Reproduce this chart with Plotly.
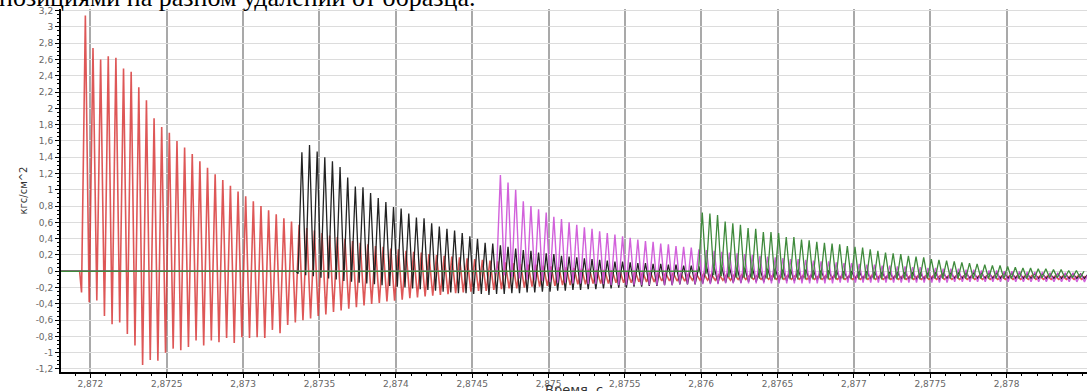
import plotly.graph_objects as go

# ---------------- data ----------------
P = 0.00005            # oscillation period, s
record_start = 2.8718  # start of record (flat zero before each trigger)

red_t0 = 2.871942
black_t0 = 2.873360
magenta_t0 = 2.874660
green_t0 = 2.875982

red_peaks = [
    3.14, 2.74, 2.60, 2.64, 2.62, 2.49, 2.45, 2.26, 2.10, 1.88,
    1.77, 1.70, 1.60, 1.52, 1.44, 1.35, 1.27, 1.19, 1.12, 1.05,
    0.98, 0.92, 0.86, 0.80, 0.75, 0.70, 0.65, 0.61, 0.57, 0.53,
    0.50, 0.47, 0.44, 0.42, 0.40, 0.37, 0.35, 0.33, 0.31, 0.30,
    0.28, 0.27, 0.25, 0.24, 0.23, 0.21, 0.20, 0.19, 0.18, 0.17,
    0.16, 0.15, 0.14, 0.13, 0.12, 0.11, 0.10, 0.09, 0.08, 0.08,
    0.07, 0.06, 0.05, 0.05, 0.04, 0.03, 0.03, 0.02, 0.02, 0.01,
    0.01, 0.00, 0.00, -0.01, -0.01, -0.02, -0.02, -0.02, -0.03, -0.03,
    -0.03, -0.03, -0.04, -0.04, -0.04, -0.04, -0.04, -0.05, -0.05, -0.05,
    -0.05, -0.05, -0.05, -0.05, -0.05, -0.05, -0.06, -0.05, -0.06, -0.06,
    -0.06, -0.06, -0.06, -0.05, -0.06, -0.06, -0.06, -0.06, -0.06, -0.06,
    -0.06, -0.06, -0.05, -0.06, -0.06, -0.06, -0.06, -0.06, -0.06, -0.06,
    -0.06, -0.06, -0.06, -0.06, -0.05, -0.06, -0.06, -0.06, -0.06, -0.06,
    -0.06, -0.06,
]
red_troughs = [
    -0.26, -0.38, -0.36, -0.55, -0.65, -0.63, -0.77, -0.91, -1.15, -1.09,
    -1.10, -1.00, -0.95, -0.97, -0.93, -0.85, -0.91, -0.85, -0.87, -0.82,
    -0.88, -0.81, -0.82, -0.81, -0.82, -0.72, -0.76, -0.66, -0.63, -0.60,
    -0.58, -0.55, -0.53, -0.50, -0.48, -0.46, -0.44, -0.42, -0.40, -0.39,
    -0.37, -0.36, -0.35, -0.33, -0.32, -0.31, -0.30, -0.29, -0.28, -0.27,
    -0.26, -0.25, -0.24, -0.24, -0.23, -0.22, -0.21, -0.21, -0.20, -0.19,
    -0.19, -0.18, -0.18, -0.17, -0.17, -0.16, -0.16, -0.15, -0.15, -0.15,
    -0.14, -0.14, -0.14, -0.13, -0.13, -0.13, -0.12, -0.12, -0.12, -0.12,
    -0.11, -0.11, -0.11, -0.11, -0.11, -0.11, -0.10, -0.10, -0.10, -0.10,
    -0.10, -0.10, -0.10, -0.10, -0.10, -0.10, -0.10, -0.10, -0.10, -0.10,
    -0.10, -0.10, -0.10, -0.10, -0.10, -0.10, -0.10, -0.10, -0.10, -0.10,
    -0.10, -0.10, -0.10, -0.10, -0.10, -0.10, -0.10, -0.10, -0.10, -0.10,
    -0.10, -0.10, -0.10, -0.10, -0.10, -0.10, -0.10, -0.10, -0.10, -0.10,
    -0.10, -0.10,
]

black_peaks = [
    1.46, 1.55, 1.47, 1.40, 1.35, 1.28, 1.15, 1.04, 1.03, 0.96,
    0.90, 0.85, 0.79, 0.77, 0.71, 0.66, 0.65, 0.59, 0.55, 0.52,
    0.50, 0.47, 0.43, 0.40, 0.35, 0.34, 0.32, 0.30, 0.28, 0.26,
    0.25, 0.23, 0.22, 0.21, 0.19, 0.18, 0.17, 0.16, 0.15, 0.14,
    0.13, 0.12, 0.12, 0.11, 0.10, 0.10, 0.09, 0.09, 0.08, 0.08,
    0.07, 0.07, 0.06, 0.06, 0.05, 0.05, 0.05, 0.04, 0.04, 0.04,
    0.03, 0.03, 0.03, 0.02, 0.02, 0.02, 0.02, 0.01, 0.01, 0.01,
    0.01, 0.00, 0.00, 0.00, 0.00, -0.01, -0.01, -0.01, -0.01, -0.01,
    -0.02, -0.02, -0.02, -0.02, -0.02, -0.02, -0.02, -0.02, -0.02, -0.02,
    -0.02, -0.02, -0.02, -0.02, -0.02, -0.03, -0.03, -0.03, -0.03, -0.03,
    -0.03, -0.03, -0.03, -0.03,
]
black_troughs = [
    -0.03, -0.05, -0.06, -0.08, -0.09, -0.10, -0.12, -0.13, -0.14, -0.15,
    -0.16, -0.17, -0.18, -0.19, -0.20, -0.21, -0.22, -0.23, -0.24, -0.25,
    -0.26, -0.27, -0.27, -0.28, -0.28, -0.29, -0.28, -0.28, -0.27, -0.27,
    -0.26, -0.26, -0.25, -0.25, -0.24, -0.24, -0.23, -0.23, -0.22, -0.22,
    -0.21, -0.21, -0.20, -0.20, -0.19, -0.19, -0.18, -0.18, -0.17, -0.17,
    -0.16, -0.16, -0.16, -0.15, -0.15, -0.15, -0.14, -0.14, -0.14, -0.13,
    -0.13, -0.13, -0.12, -0.12, -0.12, -0.12, -0.11, -0.11, -0.11, -0.11,
    -0.10, -0.10, -0.10, -0.10, -0.10, -0.10, -0.10, -0.10, -0.10, -0.10,
    -0.10, -0.10, -0.10, -0.10, -0.10, -0.09, -0.09, -0.09, -0.09, -0.09,
    -0.09, -0.09, -0.09, -0.09, -0.09, -0.09, -0.09, -0.09, -0.09, -0.09,
    -0.09, -0.09, -0.09, -0.09,
]

magenta_peaks = [
    1.18, 1.09, 1.00, 0.86, 0.80, 0.76, 0.72, 0.67, 0.64, 0.60,
    0.57, 0.54, 0.52, 0.49, 0.47, 0.45, 0.43, 0.41, 0.39, 0.37,
    0.36, 0.34, 0.33, 0.31, 0.30, 0.29, 0.27, 0.26, 0.25, 0.24,
    0.23, 0.22, 0.21, 0.20, 0.19, 0.18, 0.17, 0.16, 0.15, 0.15,
    0.14, 0.13, 0.12, 0.12, 0.11, 0.10, 0.10, 0.09, 0.08, 0.08,
    0.07, 0.07, 0.06, 0.06, 0.05, 0.05, 0.04, 0.04, 0.03, 0.03,
    0.03, 0.02, 0.02, 0.01, 0.01, 0.01, 0.00, 0.00, 0.00, -0.01,
    -0.01, -0.01, -0.02, -0.02, -0.02, -0.02, -0.03, -0.03,
]
magenta_troughs = [
    -0.02, -0.05, -0.07, -0.09, -0.10, -0.11, -0.12, -0.13, -0.14, -0.14,
    -0.15, -0.15, -0.16, -0.16, -0.16, -0.17, -0.17, -0.17, -0.17, -0.17,
    -0.17, -0.17, -0.17, -0.17, -0.16, -0.16, -0.16, -0.16, -0.16, -0.16,
    -0.15, -0.15, -0.15, -0.15, -0.15, -0.15, -0.15, -0.15, -0.15, -0.15,
    -0.15, -0.15, -0.15, -0.15, -0.15, -0.14, -0.14, -0.14, -0.14, -0.14,
    -0.14, -0.14, -0.14, -0.14, -0.14, -0.14, -0.14, -0.14, -0.14, -0.14,
    -0.13, -0.13, -0.13, -0.13, -0.13, -0.13, -0.13, -0.13, -0.13, -0.13,
    -0.13, -0.13, -0.13, -0.13, -0.13, -0.13, -0.13, -0.13,
]

green_peaks = [
    0.72, 0.71, 0.69, 0.61, 0.59, 0.57, 0.53, 0.52, 0.48, 0.48,
    0.47, 0.42, 0.42, 0.39, 0.38, 0.36, 0.35, 0.34, 0.33, 0.31,
    0.30, 0.29, 0.27, 0.25, 0.23, 0.22, 0.21, 0.19, 0.18, 0.17,
    0.15, 0.14, 0.13, 0.12, 0.11, 0.10, 0.09, 0.08, 0.07, 0.07,
    0.06, 0.05, 0.04, 0.04, 0.03, 0.03, 0.02, 0.02, 0.01, 0.01,
    0.00,
]
green_troughs = [
    0.00, -0.03, -0.05, -0.06, -0.07, -0.08, -0.08, -0.09, -0.09, -0.09,
    -0.10, -0.10, -0.10, -0.10, -0.10, -0.10, -0.10, -0.10, -0.10, -0.10,
    -0.10, -0.10, -0.10, -0.10, -0.10, -0.10, -0.10, -0.10, -0.10, -0.10,
    -0.09, -0.09, -0.09, -0.09, -0.09, -0.09, -0.09, -0.09, -0.09, -0.09,
    -0.09, -0.09, -0.09, -0.09, -0.09, -0.08, -0.08, -0.08, -0.08, -0.08,
    -0.08,
]

x_tick_vals = [2.872, 2.8725, 2.873, 2.8735, 2.874, 2.8745, 2.875,
               2.8755, 2.876, 2.8765, 2.877, 2.8775, 2.878]
x_tick_text = ["2,872", "2,8725", "2,873", "2,8735", "2,874", "2,8745", "2,875",
               "2,8755", "2,876", "2,8765", "2,877", "2,8775", "2,878"]
y_tick_vals = [-1.2, -1.0, -0.8, -0.6, -0.4, -0.2, 0.0, 0.2, 0.4, 0.6, 0.8,
               1.0, 1.2, 1.4, 1.6, 1.8, 2.0, 2.2, 2.4, 2.6, 2.8, 3.0, 3.2]
y_tick_text = ["-1,2", "-1", "-0,8", "-0,6", "-0,4", "-0,2", "0", "0,2", "0,4",
               "0,6", "0,8", "1", "1,2", "1,4", "1,6", "1,8", "2", "2,2", "2,4",
               "2,6", "2,8", "3", "3,2"]

caption = "позициями на разном удалении от образца."
x_title = "Время, с"
y_title = "кгс/см^2"


def build(t0, troughs, peaks):
    xs = [record_start, t0 - P * 0.25]
    ys = [0.0, 0.0]
    for j, (lo, hi) in enumerate(zip(troughs, peaks)):
        xs += [t0 + j * P, t0 + (j + 0.5) * P]
        ys += [lo, hi]
    return xs, ys


series = [
    ("red", red_t0, red_troughs, red_peaks, "rgba(216,58,58,0.85)", 1.6),
    ("black", black_t0, black_troughs, black_peaks, "#222222", 1.3),
    ("magenta", magenta_t0, magenta_troughs, magenta_peaks, "rgba(205,80,215,0.9)", 1.4),
    ("green", green_t0, green_troughs, green_peaks, "#3f8a3c", 1.3),
]

fig = go.Figure()
for name, t0, lo, hi, col, w in series:
    xs, ys = build(t0, lo, hi)
    fig.add_trace(go.Scatter(x=xs, y=ys, mode="lines", name=name,
                             line=dict(color=col, width=w)))

PLOT_H = 391 - 9 - 19

fig.update_layout(
    width=1087, height=391,
    margin=dict(l=61, r=0, t=9, b=19),
    paper_bgcolor="white", plot_bgcolor="white",
    showlegend=False,
    font=dict(family="DejaVu Sans, Arial, sans-serif", color="#555"),
)
fig.update_xaxes(
    range=[2.8718075, 2.8785265],
    automargin=False,
    tickvals=x_tick_vals, ticktext=x_tick_text,
    tickfont=dict(size=9, color="#666"),
    ticklabelstandoff=-2,
    showgrid=True, gridcolor="#a9a9a9", gridwidth=1.5,
    showline=True, linecolor="black", linewidth=2,
    ticks="outside", ticklen=4, tickcolor="black", tickwidth=1,
    minor=dict(dtick=0.0001, tick0=2.872, ticks="outside", ticklen=2,
               tickcolor="black", showgrid=False),
    zeroline=False,
)
fig.update_yaxes(
    range=[-1.237, 3.22],
    automargin=False,
    tickvals=y_tick_vals, ticktext=y_tick_text,
    tickfont=dict(size=9, color="#666"),
    showgrid=True, gridcolor="#dcdcdc", gridwidth=1,
    showline=True, linecolor="black", linewidth=2,
    ticks="outside", ticklen=4, tickcolor="black", tickwidth=1,
    minor=dict(dtick=0.05, tick0=0, ticks="outside", ticklen=2,
               tickcolor="black", showgrid=False),
    zeroline=False,
    title=dict(text=y_title, font=dict(size=10, color="#333"), standoff=6),
)

# x-axis title (sits just below the tick labels, partly cut by the page edge)
fig.add_annotation(
    text=x_title, xref="paper", yref="paper",
    x=0.5, y=-(380 - 372) / PLOT_H,
    xanchor="center", yanchor="top", showarrow=False,
    font=dict(size=13, color="#333"),
)

# caption text above the chart (mostly cut off at the top edge)
fig.add_annotation(
    text=caption, xref="paper", yref="paper",
    x=(478 - 61) / 1026, y=1 - 5 / PLOT_H,
    xanchor="right", yanchor="bottom", showarrow=False,
    font=dict(family="Liberation Serif, Times New Roman, serif", size=26, color="black"),
)

fig.write_html("out.html", config={"displayModeBar": False},
               post_script="document.body.style.margin='0px';")
